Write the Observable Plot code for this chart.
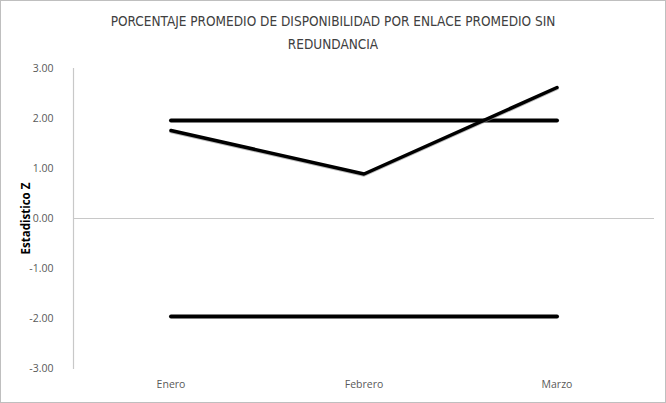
<!DOCTYPE html>
<html>
<head>
<meta charset="utf-8">
<script src="https://cdn.jsdelivr.net/npm/d3@7"></script>
<script src="https://cdn.jsdelivr.net/npm/@observablehq/plot@0.6"></script>
<style>
  html, body { margin: 0; padding: 0; background: #fff; }
  #wrap { position: relative; width: 664px; height: 401px; border: 1px solid #bfbfbf; background: #fff; overflow: hidden; }
  #title { position: absolute; left: 0; top: 9px; width: 664px; text-align: center;
           font-family: "Liberation Sans Narrow", "DejaVu Sans Condensed", "Open Sans", sans-serif;
           font-size: 13.5px; line-height: 23px; color: #404040; }
  #chart { position: absolute; left: 0; top: 0; }
</style>
</head>
<body>
<div id="wrap">
  <div id="chart"></div>
  <div id="title">PORCENTAJE PROMEDIO DE DISPONIBILIDAD POR ENLACE PROMEDIO SIN<br>REDUNDANCIA</div>
</div>
<script>
const categories = ["Enero", "Febrero", "Marzo"];
const zValues = [1.76, 0.89, 2.62];
const upperLimit = [1.96, 1.96, 1.96];
const lowerLimit = [-1.96, -1.96, -1.96];
const yTicks = [-3, -2, -1, 0, 1, 2, 3];
const yLabel = "Estadistico Z";

const rows = (vals, name) => categories.map((c, i) => ({mes: c, z: vals[i], serie: name}));
const zData = rows(zValues, "Z");
const upData = rows(upperLimit, "Límite superior");
const loData = rows(lowerLimit, "Límite inferior");

const font = "'Open Sans', 'Liberation Sans', sans-serif";

const plot = Plot.plot({
  width: 664,
  height: 401,
  marginTop: 67,
  marginBottom: 34,
  marginLeft: 72,
  marginRight: 11,
  style: {fontFamily: font, fontSize: "10.5px", color: "#595959", background: "transparent"},
  x: {type: "band", domain: categories, padding: 0, axis: null},
  y: {domain: [-3, 3], axis: null},
  marks: [
    Plot.ruleY([0], {stroke: "#c8c8c8", strokeWidth: 1.2}),
    Plot.frame({anchor: "left", stroke: "#c8c8c8", strokeWidth: 1.2}),
    Plot.axisY({ticks: yTicks, tickFormat: d => d.toFixed(2), tickSize: 0, tickPadding: 20,
                label: null, fill: "#595959"}),
    Plot.axisX({tickSize: 0, tickPadding: 12, label: null, fill: "#595959"}),
    Plot.text([yLabel], {frameAnchor: "left", dx: -47, rotate: -90, textAnchor: "middle",
                         fontWeight: "bold", fontSize: 11.5, fill: "#000"}),
    Plot.lineY(upData, {x: "mes", y: "z", stroke: "#000", strokeWidth: 4, strokeLinecap: "round"}),
    Plot.lineY(loData, {x: "mes", y: "z", stroke: "#000", strokeWidth: 4, strokeLinecap: "round"}),
    Plot.lineY(zData, {x: "mes", y: "z", stroke: "#8a8a8a", strokeWidth: 3.5, dy: 1, strokeOpacity: 0.6}),
    Plot.lineY(zData, {x: "mes", y: "z", stroke: "#000", strokeWidth: 3.5, strokeLinejoin: "miter"})
  ]
});
document.getElementById("chart").appendChild(plot);
</script>
</body>
</html>
